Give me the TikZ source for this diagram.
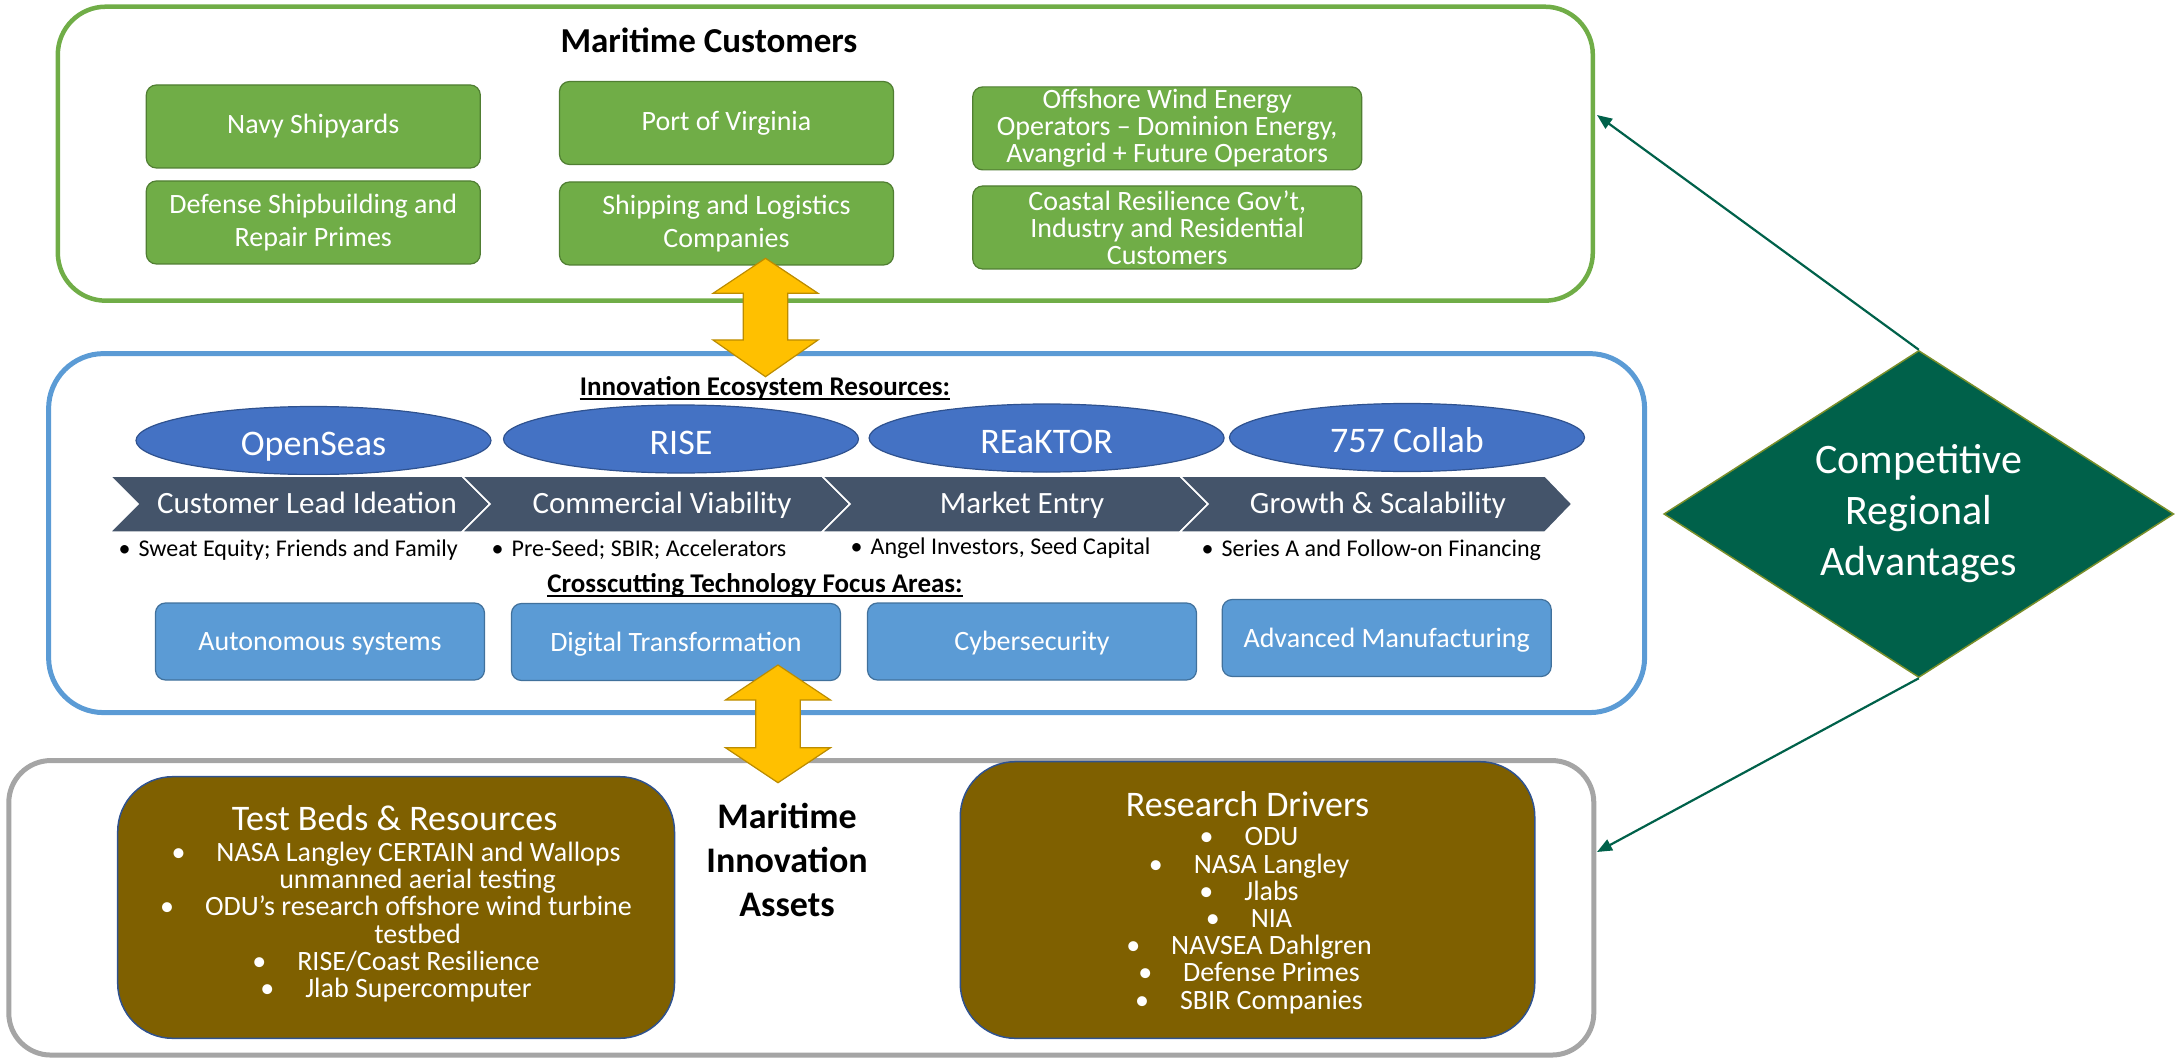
\documentclass[tikz,border=0pt]{standalone}
\usepackage{fontspec}
\setmainfont{Carlito}
\usetikzlibrary{shapes.geometric,arrows.meta}
\definecolor{custgreen}{HTML}{70AD47}
\definecolor{gborder}{HTML}{507E32}
\definecolor{midblue}{HTML}{5B9BD5}
\definecolor{ellblue}{HTML}{4472C4}
\definecolor{ellborder}{HTML}{2F528F}
\definecolor{chevcol}{HTML}{44546A}
\definecolor{lblue}{HTML}{5B9BD5}
\definecolor{lbborder}{HTML}{41719C}
\definecolor{grayline}{HTML}{A5A5A5}
\definecolor{brownf}{HTML}{7F6000}
\definecolor{bborder}{HTML}{2F528F}
\definecolor{dgreen}{HTML}{00614A}
\definecolor{olivel}{HTML}{7A8F2A}
\definecolor{yel}{HTML}{FFC000}
\definecolor{yelborder}{HTML}{BC8C00}
\begin{document}
\begin{tikzpicture}[x=1pt,y=-1pt,
  every node/.style={inner sep=0pt},
  gbox/.style={draw=gborder, fill=custgreen, line width=1.2pt, rounded corners=10pt,
    minimum width=334pt, minimum height=83pt, text=white, align=center,
    font=\fontsize{28}{33}\selectfont},
  ell/.style={ellipse, draw=ellborder, fill=ellblue, line width=1.2pt,
    minimum width=355pt, minimum height=68pt, text=white,
    font=\fontsize{36}{40}\selectfont, text height=30pt, text depth=0pt},
  chevshape/.style={fill=chevcol, draw=white, line width=1.5pt},
  chevtxt/.style={text=white, font=\fontsize{31}{36}\selectfont, text height=20pt, text depth=0pt},
  smalltxt/.style={anchor=base west, font=\fontsize{24}{28}\selectfont},
  lbox/.style={draw=lbborder, fill=lblue, line width=1.2pt, rounded corners=10pt,
    minimum width=329pt, minimum height=77pt, text=white,
    font=\fontsize{28}{33}\selectfont, text height=18pt, text depth=0pt},
  bbox/.style={draw=bborder, fill=brownf, line width=1.5pt, rounded corners=55pt},
  btitle/.style={anchor=base, text=white, font=\fontsize{36}{40}\selectfont},
  blist/.style={text=white, align=center, font=\fontsize{28}{27.2}\selectfont},
  hdr/.style={anchor=base, font=\bfseries\fontsize{27}{32}\selectfont},
  conn/.style={draw=dgreen, line width=2.2pt, -{Triangle[length=15pt,width=12pt]}},
  yarrow/.style={fill=yel, draw=yelborder, line width=1.2pt, line join=miter}
]
\useasboundingbox (0,0) rectangle (2177,1059);

% ---------- Maritime Customers ----------
\node[draw=custgreen, line width=4.5pt, rounded corners=48pt,
  minimum width=1535pt, minimum height=294pt] (cust) at (825.3,153.7) {};
\node[anchor=base, font=\bfseries\fontsize{35}{40}\selectfont] (custtitle) at (709,53) {Maritime Customers};

\node[gbox] (navy) at (313.3,126.5) {Navy Shipyards};
\node[gbox] (defense) at (313.3,222.5) {Defense Shipbuilding and\\Repair Primes};
\node[gbox] (port) at (726.5,123) {Port of Virginia};
\node[gbox] (ship) at (726.5,223.5) {Shipping and Logistics\\Companies};
\node[gbox, minimum width=389pt, font=\fontsize{28}{27}\selectfont] (wind) at (1167.2,128.4)
  {Offshore Wind Energy\\Operators – Dominion Energy,\\Avangrid + Future Operators};
\node[gbox, minimum width=389pt, font=\fontsize{28}{27}\selectfont] (coast) at (1167.2,227.5)
  {Coastal Resilience Gov’t,\\Industry and Residential\\Customers};

% ---------- Innovation Ecosystem ----------
\node[draw=midblue, line width=5pt, rounded corners=55pt,
  minimum width=1596pt, minimum height=359pt] (eco) at (846.6,533.1) {};
\node[hdr] (ecotitle) at (765,395) {Innovation Ecosystem Resources:};
\draw[line width=1.8pt] ([yshift=-4pt]ecotitle.base west) -- ([yshift=-4pt]ecotitle.base east);

\node[ell] (openseas) at (313.5,440.5) {OpenSeas};
\node[ell] (rise) at (681,439) {RISE};
\node[ell] (reaktor) at (1046.6,438) {REaKTOR};
\node[ell] (collab) at (1407,437.5) {757 Collab};

\draw[chevshape] (110,476) -- (462,476) -- (490,504) -- (462,532) -- (110,532) -- (138,504) -- cycle;
\draw[chevshape] (462,476) -- (822,476) -- (850,504) -- (822,532) -- (462,532) -- (490,504) -- cycle;
\draw[chevshape] (822,476) -- (1180,476) -- (1208,504) -- (1180,532) -- (822,532) -- (850,504) -- cycle;
\draw[chevshape] (1180,476) -- (1545,476) -- (1572,504) -- (1545,532) -- (1180,532) -- (1208,504) -- cycle;

\node[chevtxt] (stage1) at (307,503.5) {Customer Lead Ideation};
\node[chevtxt] (stage2) at (662,503.5) {Commercial Viability};
\node[chevtxt] (stage3) at (1022,503.5) {Market Entry};
\node[chevtxt] (stage4) at (1378,503.5) {Growth \& Scalability};

\node[smalltxt] (fund1) at (118.5,556) {•\hspace{8pt}Sweat Equity; Friends and Family};
\node[smalltxt] (fund2) at (491.5,556) {•\hspace{8pt}Pre-Seed; SBIR; Accelerators};
\node[smalltxt] (fund3) at (850.5,554) {•\hspace{8pt}Angel Investors, Seed Capital};
\node[smalltxt] (fund4) at (1201.5,556) {•\hspace{8pt}Series A and Follow-on Financing};

\node[hdr] (techtitle) at (755,592) {Crosscutting Technology Focus Areas:};
\draw[line width=1.8pt] ([yshift=-4pt]techtitle.base west) -- ([yshift=-4pt]techtitle.base east);

\node[lbox] (auto) at (320,641.5) {Autonomous systems};
\node[lbox] (digital) at (676,642) {Digital Transformation};
\node[lbox] (cyber) at (1032,641.5) {Cybersecurity};
\node[lbox] (adv) at (1386.7,638) {Advanced Manufacturing};

% ---------- Maritime Innovation Assets ----------
\node[draw=grayline, line width=5pt, rounded corners=42pt,
  minimum width=1585pt, minimum height=294.5pt] (assets) at (801.3,907.8) {};

\node[bbox, minimum width=556.8pt, minimum height=261.6pt] (testbeds) at (396.1,907.5) {};
\node[btitle] (tbtitle) at (394.6,830) {Test Beds \& Resources};
\node[blist] (tblist) at (396,922) {•\hspace{31pt}NASA Langley CERTAIN and Wallops\\
  \hspace*{43pt}unmanned aerial testing\\
  •\hspace{31pt}ODU’s research offshore wind turbine\\
  \hspace*{43pt}testbed\\
  •\hspace{31pt}RISE/Coast Resilience\\
  •\hspace{31pt}Jlab Supercomputer};

\node[align=center, font=\bfseries\fontsize{36}{44}\selectfont] (mia) at (787,860) {Maritime\\Innovation\\Assets};

\node[bbox, minimum width=574.5pt, minimum height=276.6pt] (research) at (1247.5,900) {};
\node[btitle] (rdtitle) at (1247.5,816) {Research Drivers};
\node[blist] (rdlist) at (1249,920.6) {•\hspace{31pt}ODU\\
  •\hspace{31pt}NASA Langley\\
  •\hspace{31pt}Jlabs\\
  •\hspace{31pt}NIA\\
  •\hspace{31pt}NAVSEA Dahlgren\\
  •\hspace{31pt}Defense Primes\\
  •\hspace{31pt}SBIR Companies};

% ---------- Competitive Regional Advantages ----------
\node[diamond, aspect=1.56, draw=olivel, fill=dgreen, line width=1.5pt,
  minimum width=510pt, minimum height=327pt, text=white, align=center,
  font=\fontsize{42}{51}\selectfont] (dia) at (1918.8,514) {Competitive\\Regional\\Advantages};

\coordinate (custin) at (1597,115);
\coordinate (assetin) at (1597,852);
\draw[conn] (dia.north) -- (custin);
\draw[conn] (dia.south) -- (assetin);

% ---------- yellow double arrows ----------
\draw[yarrow] (765.5,258.3) -- (818,293.3) -- (787.8,293.3) -- (787.8,340) -- (818,340)
  -- (765.5,376.7) -- (713,340) -- (743.2,340) -- (743.2,293.3) -- (713,293.3) -- cycle;
\draw[yarrow] (778,665) -- (830.5,700) -- (800.3,700) -- (800.3,747.7) -- (830.5,747.7)
  -- (778,782.7) -- (725.5,747.7) -- (755.7,747.7) -- (755.7,700) -- (725.5,700) -- cycle;
\end{tikzpicture}
\end{document}
